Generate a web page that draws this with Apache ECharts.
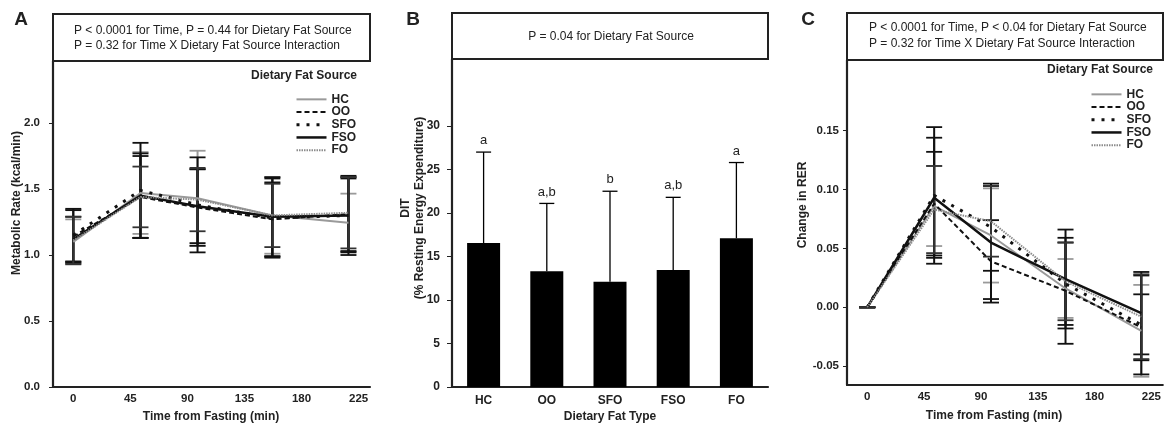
<!DOCTYPE html>
<html>
<head>
<meta charset="utf-8">
<script src="https://cdn.jsdelivr.net/npm/echarts@6/dist/echarts.min.js"></script>
<style>
html, body { margin: 0; padding: 0; background: #fff; }
#main { width: 1164px; height: 426px; }
</style>
</head>
<body>
<div id="main"></div>
<script>
// time points (min) shared by panels A and C
var timePoints = [0, 53, 98, 157, 217];
var dietNames = ['HC', 'OO', 'SFO', 'FSO', 'FO'];

// panel A - metabolic rate (kcal/min), mean and SD
var mrHC = [1.10, 1.47, 1.43, 1.30, 1.245];
var mrOO = [1.14, 1.44, 1.36, 1.27, 1.31];
var mrSFO = [1.15, 1.49, 1.38, 1.28, 1.30];
var mrFSO = [1.12, 1.45, 1.37, 1.29, 1.30];
var mrFO = [1.11, 1.44, 1.42, 1.30, 1.32];
var mrSdHC = [0.17, 0.31, 0.36, 0.29, 0.22];
var mrSdOO = [0.20, 0.31, 0.29, 0.28, 0.28];
var mrSdSFO = [0.20, 0.36, 0.36, 0.30, 0.28];
var mrSdFSO = [0.17, 0.32, 0.28, 0.30, 0.30];
var mrSdFO = [0.18, 0.23, 0.24, 0.24, 0.27];

// panel B - DIT (% resting energy expenditure)
var ditMean = [16.55, 13.3, 12.1, 13.45, 17.1];
var ditSd = [10.45, 7.8, 10.4, 8.35, 8.7];
var ditLetters = ['a', 'a,b', 'b', 'a,b', 'a'];

// panel C - change in RER, mean and SD
var rerHC = [0, 0.086, 0.061, 0.016, -0.020];
var rerOO = [0, 0.088, 0.039, 0.014, -0.017];
var rerSFO = [0, 0.095, 0.068, 0.020, -0.015];
var rerFSO = [0, 0.093, 0.055, 0.024, -0.005];
var rerFO = [0, 0.083, 0.073, 0.022, -0.008];
var rerSdHC = [0, 0.034, 0.040, 0.025, 0.039];
var rerSdOO = [0, 0.044, 0.035, 0.045, 0.028];
var rerSdSFO = [0, 0.058, 0.037, 0.035, 0.042];
var rerSdFSO = [0, 0.051, 0.048, 0.042, 0.035];
var rerSdFO = [0, 0.037, 0.030, 0.033, 0.036];

// tick labels
var timeTicks = [0, 45, 90, 135, 180, 225];
var mrTicks = [0, 0.5, 1.0, 1.5, 2.0];
var ditTicks = [0, 5, 10, 15, 20, 25, 30];
var rerTicks = [-0.05, 0, 0.05, 0.10, 0.15];

var FONT = 'Liberation Sans, Arial, sans-serif';
var INK = '#222';

var lineStyles = {
    HC: {color: '#9a9a9a', width: 2, type: 'solid'},
    OO: {color: '#111', width: 2, type: [5, 3]},
    SFO: {color: '#111', width: 3, type: [3, 7]},
    FSO: {color: '#111', width: 2.5, type: 'solid'},
    FO: {color: '#8c8c8c', width: 2, type: [1.5, 1]}
};

function pairs(vals) {
    var out = [];
    for (var i = 0; i < timePoints.length; i++) {
        out.push([timePoints[i], vals[i]]);
    }
    return out;
}

function lineSeries(name, axis, vals) {
    var ls = lineStyles[name];
    return {
        name: name,
        type: 'line',
        xAxisIndex: axis,
        yAxisIndex: axis,
        data: pairs(vals),
        symbol: 'none',
        z: 3,
        color: ls.color,
        lineStyle: {color: ls.color, width: ls.width, type: ls.type},
        silent: true
    };
}

function errorSeries(axis, vals, sds, color) {
    var data = [];
    for (var i = 0; i < timePoints.length; i++) {
        data.push([timePoints[i], vals[i] - sds[i], vals[i] + sds[i]]);
    }
    return {
        type: 'custom',
        xAxisIndex: axis,
        yAxisIndex: axis,
        silent: true,
        z: 2,
        encode: {x: 0, y: [1, 2]},
        data: data,
        renderItem: function (params, api) {
            var x = api.value(0);
            var lo = api.coord([x, api.value(1)]);
            var hi = api.coord([x, api.value(2)]);
            var hw = 8;
            return {
                type: 'group',
                children: [
                    {type: 'line', shape: {x1: hi[0], y1: hi[1], x2: lo[0], y2: lo[1]}, style: {stroke: color, lineWidth: 2}},
                    {type: 'line', shape: {x1: hi[0] - hw, y1: hi[1], x2: hi[0] + hw, y2: hi[1]}, style: {stroke: color, lineWidth: 1.8}},
                    {type: 'line', shape: {x1: lo[0] - hw, y1: lo[1], x2: lo[0] + hw, y2: lo[1]}, style: {stroke: color, lineWidth: 1.8}}
                ]
            };
        }
    };
}

var axisLineStyle = {show: true, onZero: false, lineStyle: {color: INK, width: 2.2}};
var tickFont = {fontFamily: FONT, fontWeight: 'bold', fontSize: 11.5, color: INK};

function timeAxis(grid) {
    return {
        type: 'value', gridIndex: grid, min: -16, max: 234,
        axisLine: axisLineStyle,
        axisTick: {show: false},
        splitLine: {show: false},
        axisLabel: Object.assign({customValues: timeTicks, margin: 6}, tickFont)
    };
}

function legendFor(left, top) {
    return {
        data: dietNames,
        orient: 'vertical',
        left: left, top: top,
        padding: 0,
        itemWidth: 30, itemHeight: 10, itemGap: 0,
        selectedMode: false,
        itemStyle: {opacity: 0},
        lineStyle: {width: 'inherit', type: 'inherit', opacity: 1},
        textStyle: {fontFamily: FONT, fontWeight: 'bold', fontSize: 12, lineHeight: 12.7, color: INK}
    };
}

function txt(x, y, s, opt) {
    opt = opt || {};
    return {
        type: 'text', x: x, y: y, rotation: opt.rot || 0, silent: true,
        style: {
            text: s, fill: INK,
            font: (opt.weight || 'normal') + ' ' + (opt.size || 12) + 'px ' + FONT,
            align: opt.align || 'center', verticalAlign: 'middle'
        }
    };
}

function box(x, y, w, h) {
    return {type: 'rect', silent: true, shape: {x: x, y: y, width: w, height: h},
        style: {fill: 'none', stroke: INK, lineWidth: 2}};
}

var ditErrData = [];
for (var i = 0; i < dietNames.length; i++) {
    ditErrData.push([i, ditMean[i], ditMean[i] + ditSd[i], ditLetters[i]]);
}

var chart = echarts.init(document.getElementById('main'));
var option = {
    backgroundColor: '#fff',
    animation: false,
    grid: [
        {left: 53, top: 61, width: 317, height: 326},
        {left: 452, top: 59, width: 316, height: 328},
        {left: 847, top: 60, width: 316, height: 325}
    ],
    xAxis: [
        timeAxis(0),
        {
            type: 'category', gridIndex: 1, data: dietNames,
            axisLine: axisLineStyle,
            axisTick: {show: false},
            axisLabel: Object.assign({margin: 8}, tickFont, {fontSize: 12})
        },
        timeAxis(2)
    ],
    yAxis: [
        {
            type: 'value', gridIndex: 0, min: 0, max: 2.47,
            axisLine: axisLineStyle, splitLine: {show: false},
            axisTick: {show: true, length: 4, customValues: mrTicks, lineStyle: {color: INK}},
            axisLabel: Object.assign({customValues: mrTicks, margin: 13,
                formatter: function (v) { return v.toFixed(1); }}, tickFont)
        },
        {
            type: 'value', gridIndex: 1, min: 0, max: 37.7,
            axisLine: axisLineStyle, splitLine: {show: false},
            axisTick: {show: true, length: 5, customValues: ditTicks, lineStyle: {color: INK}},
            axisLabel: Object.assign({customValues: ditTicks, margin: 12}, tickFont, {fontSize: 12})
        },
        {
            type: 'value', gridIndex: 2, min: -0.066, max: 0.21,
            axisLine: axisLineStyle, splitLine: {show: false},
            axisTick: {show: true, length: 4, customValues: rerTicks, lineStyle: {color: INK}},
            axisLabel: Object.assign({customValues: rerTicks, margin: 8,
                formatter: function (v) { return v.toFixed(2); }}, tickFont)
        }
    ],
    legend: [legendFor(295, 93), legendFor(1090, 88)],
    series: [
        errorSeries(0, mrHC, mrSdHC, '#9a9a9a'),
        errorSeries(0, mrOO, mrSdOO, '#111'),
        errorSeries(0, mrSFO, mrSdSFO, '#111'),
        errorSeries(0, mrFSO, mrSdFSO, '#111'),
        errorSeries(0, mrFO, mrSdFO, '#333'),
        lineSeries('HC', 0, mrHC),
        lineSeries('OO', 0, mrOO),
        lineSeries('SFO', 0, mrSFO),
        lineSeries('FSO', 0, mrFSO),
        lineSeries('FO', 0, mrFO),

        {
            type: 'bar', xAxisIndex: 1, yAxisIndex: 1,
            data: ditMean, barWidth: 33, silent: true,
            itemStyle: {color: '#000'}
        },
        {
            type: 'custom', xAxisIndex: 1, yAxisIndex: 1, silent: true, z: 3,
            encode: {x: 0, y: [1, 2]},
            data: ditErrData,
            renderItem: function (params, api) {
                var idx = api.value(0);
                var base = api.coord([idx, api.value(1)]);
                var top = api.coord([idx, api.value(2)]);
                var hw = 7.5;
                return {
                    type: 'group',
                    children: [
                        {type: 'line', shape: {x1: top[0], y1: top[1], x2: base[0], y2: base[1]}, style: {stroke: '#000', lineWidth: 1.3}},
                        {type: 'line', shape: {x1: top[0] - hw, y1: top[1], x2: top[0] + hw, y2: top[1]}, style: {stroke: '#000', lineWidth: 1.3}},
                        {type: 'text', x: top[0], y: top[1] - 5, style: {
                            text: ditLetters[params.dataIndex], fill: INK,
                            font: '13px ' + FONT, align: 'center', verticalAlign: 'bottom'}}
                    ]
                };
            }
        },

        errorSeries(2, rerHC, rerSdHC, '#9a9a9a'),
        errorSeries(2, rerOO, rerSdOO, '#111'),
        errorSeries(2, rerSFO, rerSdSFO, '#111'),
        errorSeries(2, rerFSO, rerSdFSO, '#111'),
        errorSeries(2, rerFO, rerSdFO, '#333'),
        lineSeries('HC', 2, rerHC),
        lineSeries('OO', 2, rerOO),
        lineSeries('SFO', 2, rerSFO),
        lineSeries('FSO', 2, rerFSO),
        lineSeries('FO', 2, rerFO)
    ],
    graphic: [
        box(53, 14, 317, 47),
        box(452, 13, 316, 46),
        box(847, 13, 316, 47),
        txt(21, 20, 'A', {weight: 'bold', size: 19}),
        txt(413, 20, 'B', {weight: 'bold', size: 19}),
        txt(808, 20, 'C', {weight: 'bold', size: 19}),
        txt(74, 31, 'P < 0.0001 for Time, P = 0.44 for Dietary Fat Source', {align: 'left'}),
        txt(74, 46, 'P = 0.32 for Time X Dietary Fat Source Interaction', {align: 'left'}),
        txt(611, 37, 'P = 0.04 for Dietary Fat Source'),
        txt(869, 28, 'P < 0.0001 for Time, P < 0.04 for Dietary Fat Source', {align: 'left'}),
        txt(869, 44, 'P = 0.32 for Time X Dietary Fat Source Interaction', {align: 'left'}),
        txt(357, 76, 'Dietary Fat Source', {align: 'right', weight: 'bold'}),
        txt(1153, 70, 'Dietary Fat Source', {align: 'right', weight: 'bold'}),
        txt(17, 203, 'Metabolic Rate (kcal/min)', {weight: 'bold', rot: Math.PI / 2}),
        txt(406, 208, 'DIT', {weight: 'bold', rot: Math.PI / 2}),
        txt(420, 208, '(% Resting Energy Expenditure)', {weight: 'bold', rot: Math.PI / 2}),
        txt(803, 205, 'Change in RER', {weight: 'bold', rot: Math.PI / 2}),
        txt(211, 417, 'Time from Fasting (min)', {weight: 'bold'}),
        txt(610, 417, 'Dietary Fat Type', {weight: 'bold'}),
        txt(994, 416, 'Time from Fasting (min)', {weight: 'bold'})
    ]
};
chart.setOption(option);
</script>
</body>
</html>
